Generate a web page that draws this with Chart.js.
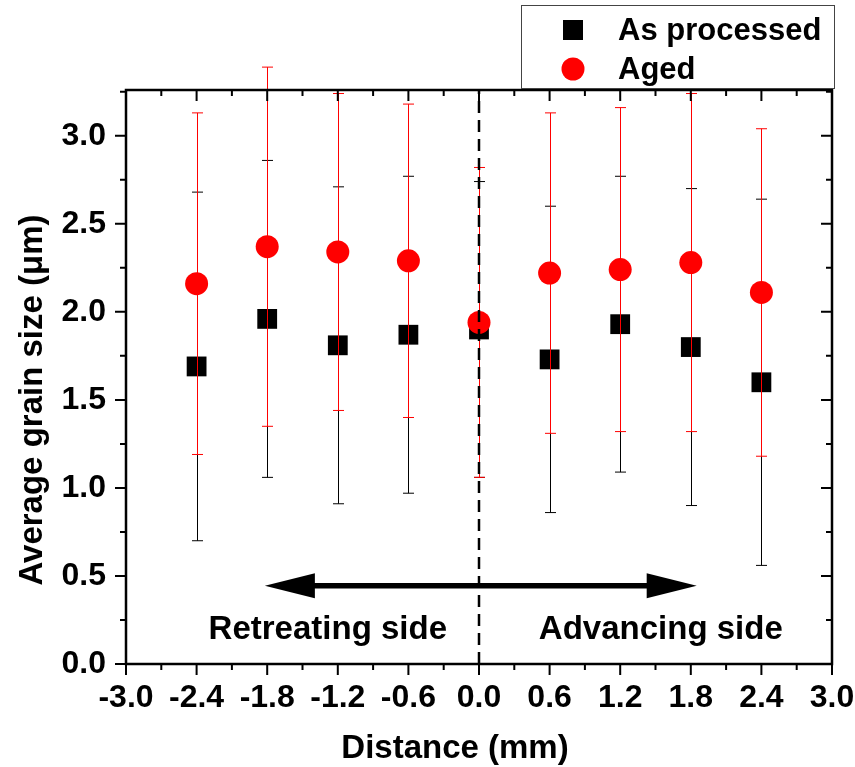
<!DOCTYPE html>
<html>
<head>
<meta charset="utf-8">
<title>Average grain size vs distance</title>
<script src="https://cdn.jsdelivr.net/npm/chart.js@4/dist/chart.umd.min.js"></script>
<style>
  body { margin: 0; background: #fff; }
  #myChart { display: block; }
</style>
</head>
<body>
<canvas id="myChart" width="855" height="767"></canvas>
<script>
const distance = [-2.4, -1.8, -1.2, -0.6, 0.0, 0.6, 1.2, 1.8, 2.4];
const asProcessed = [1.69, 1.96, 1.81, 1.87, 1.90, 1.73, 1.93, 1.80, 1.60];
const asProcessedErr = [0.99, 0.90, 0.90, 0.90, 0.84, 0.87, 0.84, 0.90, 1.04];
const aged = [2.16, 2.37, 2.34, 2.29, 1.94, 2.22, 2.24, 2.28, 2.11];
const agedErr = [0.97, 1.02, 0.90, 0.89, 0.88, 0.91, 0.92, 0.96, 0.93];

const seriesLabels = ["As processed", "Aged"];
const sideLabels = ["Retreating side", "Advancing side"];
const xTitle = "Distance (mm)";
const yTitle = "Average grain size (\u03bcm)";

const FONT = "'Liberation Sans', Arial, sans-serif";

function toPoints(xs, ys) {
  return xs.map((x, i) => ({ x: x, y: ys[i] }));
}

// error bars, frame, annotations and legend are drawn on top of the scales
const extras = {
  id: "extras",
  beforeDatasetDraw(chart, args) {
    const ds = chart.data.datasets[args.index];
    const xs = chart.scales.x;
    const ys = chart.scales.y;
    const ctx = chart.ctx;
    ctx.save();
    ctx.strokeStyle = ds.errColor;
    ctx.lineWidth = 1;
    ds.data.forEach((p, i) => {
      const e = ds.err[i];
      const px = Math.round(xs.getPixelForValue(p.x)) + 0.5;
      const top = ys.getPixelForValue(p.y + e);
      const bot = ys.getPixelForValue(p.y - e);
      ctx.beginPath();
      ctx.moveTo(px, top);
      ctx.lineTo(px, bot);
      ctx.moveTo(px - 5.5, top);
      ctx.lineTo(px + 5.5, top);
      ctx.moveTo(px - 5.5, bot);
      ctx.lineTo(px + 5.5, bot);
      ctx.stroke();
    });
    ctx.restore();
  },
  afterDatasetsDraw(chart) {
    const ctx = chart.ctx;
    const xs = chart.scales.x;
    const ys = chart.scales.y;
    const area = chart.chartArea;
    ctx.save();

    // centre line
    const x0 = xs.getPixelForValue(0);
    ctx.strokeStyle = "#000";
    ctx.lineWidth = 2.5;
    ctx.setLineDash([12, 7]);
    ctx.beginPath();
    ctx.moveTo(x0, area.bottom);
    ctx.lineTo(x0, area.top);
    ctx.stroke();
    ctx.setLineDash([]);

    // double arrow
    const ay = ys.getPixelForValue(0.445);
    const ax1 = xs.getPixelForValue(-1.82);
    const ax2 = xs.getPixelForValue(1.85);
    ctx.fillStyle = "#000";
    ctx.lineWidth = 5.5;
    ctx.beginPath();
    ctx.moveTo(ax1 + 40, ay);
    ctx.lineTo(ax2 - 40, ay);
    ctx.stroke();
    ctx.beginPath();
    ctx.moveTo(ax1, ay);
    ctx.lineTo(ax1 + 50, ay - 12.5);
    ctx.lineTo(ax1 + 50, ay + 12.5);
    ctx.closePath();
    ctx.fill();
    ctx.beginPath();
    ctx.moveTo(ax2, ay);
    ctx.lineTo(ax2 - 50, ay - 12.5);
    ctx.lineTo(ax2 - 50, ay + 12.5);
    ctx.closePath();
    ctx.fill();

    ctx.font = "bold 33px " + FONT;
    ctx.textAlign = "center";
    ctx.textBaseline = "alphabetic";
    ctx.fillText(sideLabels[0], xs.getPixelForValue(-1.285), ys.getPixelForValue(0.142));
    ctx.fillText(sideLabels[1], xs.getPixelForValue(1.545), ys.getPixelForValue(0.142));
    ctx.restore();
  },
  afterDraw(chart) {
    const ctx = chart.ctx;
    const xs = chart.scales.x;
    const ys = chart.scales.y;
    const a = chart.chartArea;
    ctx.save();
    ctx.strokeStyle = "#000";
    ctx.lineWidth = 2.5;
    ctx.strokeRect(a.left, a.top, a.right - a.left, a.bottom - a.top);

    // ticks: outward on bottom/left, inward on top/right
    ctx.lineWidth = 2;
    ctx.beginPath();
    for (let k = 0; k <= 20; k++) {
      const v = -3 + k * 0.3;
      const len = k % 2 === 0 ? 11 : 6;
      const px = xs.getPixelForValue(v);
      ctx.moveTo(px, a.bottom);
      ctx.lineTo(px, a.bottom + len);
      ctx.moveTo(px, a.top);
      ctx.lineTo(px, a.top + len);
    }
    for (let k = 0; k <= 13; k++) {
      const v = k * 0.25;
      const len = k % 2 === 0 ? 11 : 6;
      const py = ys.getPixelForValue(v);
      ctx.moveTo(a.left, py);
      ctx.lineTo(a.left - len, py);
      ctx.moveTo(a.right, py);
      ctx.lineTo(a.right - len, py);
    }
    ctx.stroke();

    // axis titles
    ctx.fillStyle = "#000";
    ctx.font = "bold 33px " + FONT;
    ctx.textAlign = "center";
    ctx.textBaseline = "alphabetic";
    ctx.fillText(xTitle, 455, 758);
    ctx.save();
    ctx.translate(42, 400);
    ctx.rotate(-Math.PI / 2);
    ctx.fillText(yTitle, 0, 0);
    ctx.restore();

    // legend
    ctx.fillStyle = "#fff";
    ctx.fillRect(521.5, 5.5, 313, 83);
    ctx.strokeStyle = "#444";
    ctx.lineWidth = 1;
    ctx.strokeRect(521.5, 5.5, 313, 83);
    const ds = chart.data.datasets;
    ctx.fillStyle = ds[0].backgroundColor;
    ctx.fillRect(563, 20, 20, 20);
    ctx.fillStyle = ds[1].backgroundColor;
    ctx.beginPath();
    ctx.arc(573, 69, 11.5, 0, Math.PI * 2);
    ctx.fill();
    ctx.fillStyle = "#000";
    ctx.font = "bold 31px " + FONT;
    ctx.textAlign = "left";
    ctx.fillText(ds[0].label, 618, 40);
    ctx.fillText(ds[1].label, 618, 79);
    ctx.restore();
  }
};

function fmt(v) {
  return (Math.abs(v) < 1e-9 ? 0 : v).toFixed(1);
}

const ctx = document.getElementById("myChart").getContext("2d");
const myChart = new Chart(ctx, {
  type: "scatter",
  data: {
    datasets: [
      {
        label: seriesLabels[0],
        data: toPoints(distance, asProcessed),
        err: asProcessedErr,
        errColor: "#000",
        backgroundColor: "#000",
        borderWidth: 0,
        pointStyle: "rect",
        pointRadius: 14,
        order: 2,
      },
      {
        label: seriesLabels[1],
        data: toPoints(distance, aged),
        err: agedErr,
        errColor: "#ff0000",
        backgroundColor: "#ff0000",
        borderWidth: 0,
        pointStyle: "circle",
        pointRadius: 11.5,
        order: 1,
      },
    ],
  },
  options: {
    responsive: false,
    animation: false,
    layout: { padding: { top: 90, right: 23, left: 0, bottom: 0 } },
    plugins: {
      legend: { display: false },
      tooltip: { enabled: false },
    },
    scales: {
      x: {
        type: "linear",
        min: -3,
        max: 3,
        grid: { display: false, drawTicks: false },
        border: { display: false },
        ticks: {
          stepSize: 0.6,
          autoSkip: false,
          maxRotation: 0,
          padding: 15,
          color: "#000",
          font: { family: FONT, weight: "bold", size: 32 },
          callback: (v) => fmt(v),
        },
        afterFit(s) {
          s.height = 103;
          s.paddingLeft = 0;
          s.paddingRight = 0;
        },
      },
      y: {
        type: "linear",
        min: 0,
        max: 3.26,
        grid: { display: false, drawTicks: false },
        border: { display: false },
        ticks: {
          stepSize: 0.5,
          includeBounds: false,
          padding: 20,
          color: "#000",
          font: { family: FONT, weight: "bold", size: 32 },
          callback: (v) => fmt(v),
        },
        afterFit(s) {
          s.width = 126;
          s.paddingTop = 0;
          s.paddingBottom = 0;
        },
      },
    },
  },
  plugins: [extras],
});
</script>
</body>
</html>
